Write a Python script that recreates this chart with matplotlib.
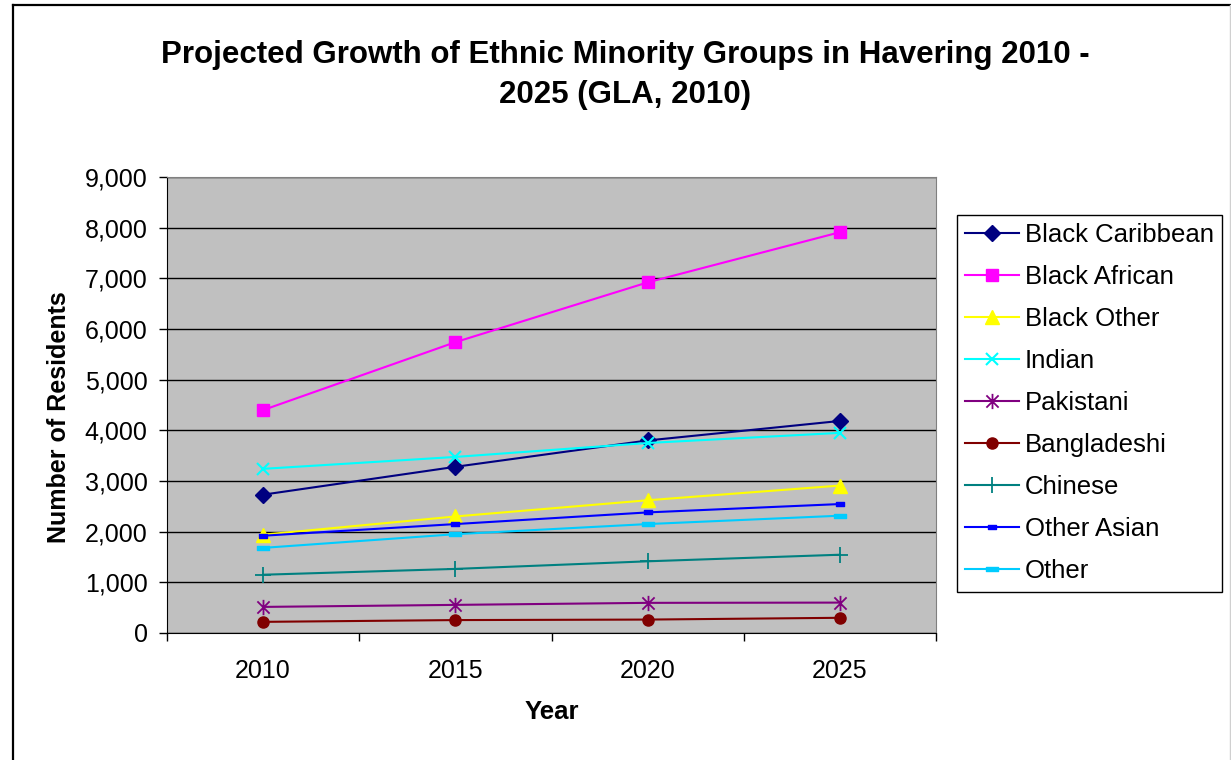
import numpy as np
import matplotlib.pyplot as plt
from matplotlib.path import Path
from matplotlib.lines import Line2D
from matplotlib.ticker import FuncFormatter

plt.rcParams['font.family'] = ['Liberation Sans', 'DejaVu Sans']

years = ['2010', '2015', '2020', '2025']

black_caribbean = [2730, 3280, 3800, 4185]
black_african = [4400, 5740, 6920, 7910]
black_other = [1940, 2300, 2620, 2910]
indian = [3240, 3475, 3750, 3950]
pakistani = [515, 555, 595, 600]
bangladeshi = [220, 255, 265, 300]
chinese = [1150, 1265, 1415, 1545]
other_asian = [1920, 2150, 2380, 2545]
other = [1680, 1950, 2150, 2315]

names = ['Black Caribbean', 'Black African', 'Black Other', 'Indian', 'Pakistani',
         'Bangladeshi', 'Chinese', 'Other Asian', 'Other']
series = [black_caribbean, black_african, black_other, indian, pakistani,
          bangladeshi, chinese, other_asian, other]

# excel-ish markers
asterisk = Path([(0, -1), (0, 1), (-0.8, -0.8), (0.8, 0.8), (-0.8, 0.8), (0.8, -0.8)],
                [Path.MOVETO, Path.LINETO, Path.MOVETO, Path.LINETO, Path.MOVETO, Path.LINETO])
short_dash = Path([(-1, -0.55), (1, -0.55), (1, 0.55), (-1, 0.55), (-1, -0.55)],
                  [Path.MOVETO, Path.LINETO, Path.LINETO, Path.LINETO, Path.CLOSEPOLY])
long_dash = Path([(-1, -0.4), (1, -0.4), (1, 0.4), (-1, 0.4), (-1, -0.4)],
                 [Path.MOVETO, Path.LINETO, Path.LINETO, Path.LINETO, Path.CLOSEPOLY])

styles = [
    dict(color='#000080', marker='D', ms=8),
    dict(color='#FF00FF', marker='s', ms=8),
    dict(color='#FFFF00', marker='^', ms=10),
    dict(color='#00FFFF', marker='x', ms=9, mew=1.5),
    dict(color='#800080', marker=asterisk, ms=11, mew=1.3),
    dict(color='#800000', marker='o', ms=8),
    dict(color='#008080', marker='+', ms=12, mew=1.3),
    dict(color='#0000FF', marker=short_dash, ms=6),
    dict(color='#00CCFF', marker=long_dash, ms=8),
]

fig = plt.figure(figsize=(12.31, 7.60), dpi=100)
ax = fig.add_axes([167 / 1231, 1 - 633 / 760, (936 - 167) / 1231, (633 - 177) / 760])
ax.set_facecolor('#C0C0C0')

x = np.arange(len(years))
for name, vals, st in zip(names, series, styles):
    ax.plot(x, vals, lw=1.5, label=name, **st)

ax.set_xlim(-0.5, len(years) - 0.5)
ax.set_ylim(0, 9000)
ax.set_yticks(np.arange(0, 9001, 1000))
ax.yaxis.set_major_formatter(FuncFormatter(lambda v, p: f'{int(v):,}'))
ax.yaxis.grid(True, color='black', lw=1)
ax.set_axisbelow(True)

ax.set_xticks(np.arange(-0.5, len(years), 1.0))
ax.set_xticklabels([])
ax.set_xticks(x, minor=True)
ax.set_xticklabels(years, minor=True)
ax.tick_params(axis='x', which='major', direction='out', length=6, width=1)
ax.tick_params(axis='x', which='minor', length=0, pad=19, labelsize=18)
ax.tick_params(axis='y', direction='out', length=6, width=1, pad=8, labelsize=18)

for s in ['top', 'right']:
    ax.spines[s].set_color('#808080')
for s in ['left', 'bottom']:
    ax.spines[s].set_color('black')

ax.set_xlabel('Year', fontsize=18.5, fontweight='bold')
ax.xaxis.set_label_coords(0.5, -0.148)
ax.set_ylabel('Number of Residents', fontsize=18, fontweight='bold')
ax.yaxis.set_label_coords(-0.125, 0.474)

fig.text(625 / 1231, 1 - 63 / 760, 'Projected Growth of Ethnic Minority Groups in Havering 2010 -',
         ha='center', va='baseline', fontsize=22.5, fontweight='bold')
fig.text(625 / 1231, 1 - 103 / 760, '2025 (GLA, 2010)',
         ha='center', va='baseline', fontsize=22.5, fontweight='bold')

leg = ax.legend(loc='upper left', bbox_to_anchor=(957 / 1231, 1 - 215 / 760),
                bbox_transform=fig.transFigure, fontsize=18.5, numpoints=1,
                handlelength=2.1, handletextpad=0.2, labelspacing=0.7,
                borderpad=0.33, borderaxespad=0, fancybox=False, framealpha=1)
leg.get_frame().set_edgecolor('black')
leg.get_frame().set_linewidth(1)

# chart-area border
fig.add_artist(Line2D([13.5 / 1231, 13.5 / 1231], [0, 1 - 5 / 760], color='black', lw=1.6,
                      transform=fig.transFigure))
fig.add_artist(Line2D([13.5 / 1231, 1], [1 - 5 / 760, 1 - 5 / 760], color='black', lw=1.6,
                      transform=fig.transFigure))
fig.add_artist(Line2D([1230 / 1231, 1230 / 1231], [0, 1 - 5 / 760], color='#D0D0D0', lw=1,
                      transform=fig.transFigure))

fig.savefig('out.png', dpi=100)
